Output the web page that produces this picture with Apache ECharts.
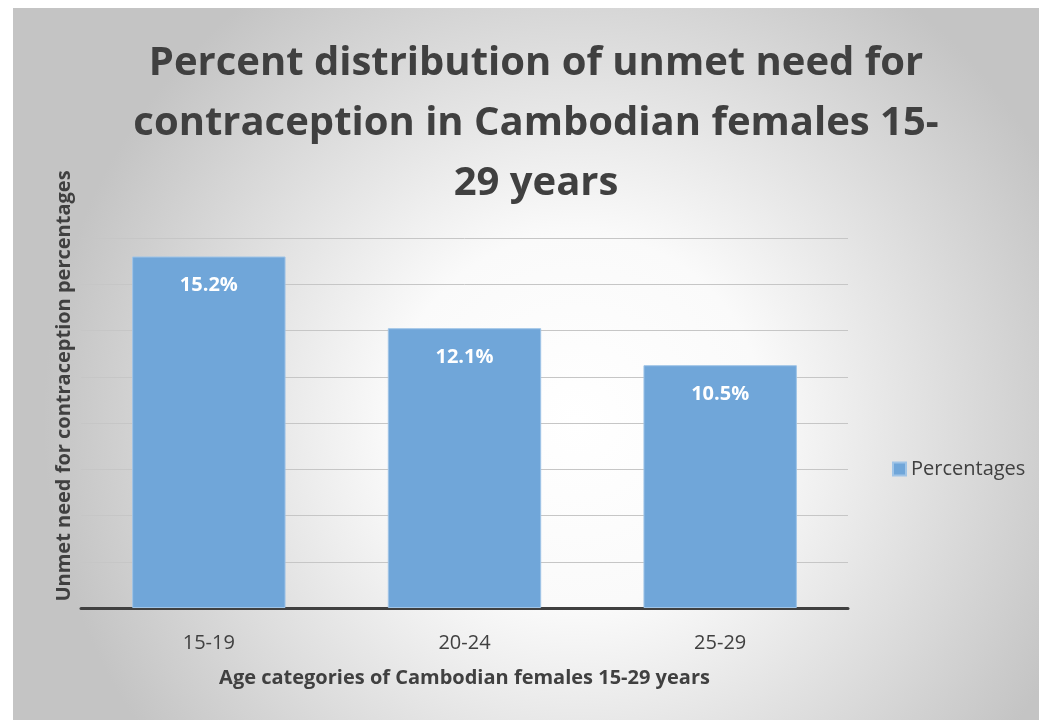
<!DOCTYPE html>
<html><head><meta charset="utf-8">
<script src="https://cdn.jsdelivr.net/npm/echarts@6/dist/echarts.min.js"></script>
<style>html,body{margin:0;padding:0;background:#fff;}#c{width:1039px;height:720px;}</style>
</head><body><div id="c"></div>
<script>
const categories = ['15-19', '20-24', '25-29'];
const percentages = [15.2, 12.1, 10.5];
const seriesName = 'Percentages';
const titleText = 'Percent distribution of unmet need for\ncontraception in Cambodian females 15-\n29 years';
const xName = 'Age categories of Cambodian females 15-29 years';
const yName = 'Unmet need for contraception percentages';

const chart = echarts.init(document.getElementById('c'));
chart.setOption({
  backgroundColor: '#ffffff',
  animation: false,
  graphic: [
    { type: 'rect', z: -10, silent: true,
      shape: { x: 13, y: 8, width: 1026, height: 712 },
      style: { fill: { type: 'radial', x: 0.55, y: 0.58, r: 0.75,
        colorStops: [{ offset: 0, color: '#ffffff' }, { offset: 0.35, color: '#fafafa' }, { offset: 1, color: '#c4c4c4' }] } } },
    { type: 'text', x: 64, y: 386, rotation: Math.PI / 2,
      style: { text: yName, fontFamily: 'Open Sans', fontWeight: 'bold', fontSize: 20, fill: '#404040',
        align: 'center', verticalAlign: 'middle' } }
  ],
  title: {
    text: titleText, left: 531, top: 29, textAlign: 'center',
    textStyle: { fontFamily: 'Open Sans', fontWeight: 'bold', fontSize: 40, color: '#404040', lineHeight: 60 }
  },
  legend: {
    data: [seriesName], orient: 'vertical', left: 887, top: 454,
    icon: 'rect', itemWidth: 13, itemHeight: 13, itemGap: 8,
    textStyle: { fontFamily: 'Open Sans', fontSize: 20, color: '#404040' }
  },
  grid: { left: 81, right: 191, top: 238, bottom: 112 },
  xAxis: {
    type: 'category', data: categories,
    axisLine: { lineStyle: { color: '#404040', width: 3 } },
    axisTick: { show: false },
    axisLabel: { fontFamily: 'Open Sans', fontSize: 20, color: '#404040', margin: 25 },
    name: xName, nameLocation: 'middle', nameGap: 60,
    nameTextStyle: { fontFamily: 'Open Sans', fontWeight: 'bold', fontSize: 20, color: '#404040' }
  },
  yAxis: {
    type: 'value', min: 0, max: 16, interval: 2,
    axisLine: { show: false }, axisTick: { show: false }, axisLabel: { show: false },
    splitLine: { lineStyle: { color: '#c6c6c6', width: 1 } }
  },
  series: [{
    name: seriesName, type: 'bar', data: percentages, barWidth: '60%',
    itemStyle: { color: '#70a6d9', borderColor: '#9fc4e7', borderWidth: 1 },
    label: { show: true, position: 'insideTop', distance: 19,
      formatter: p => p.value.toFixed(1) + '%',
      fontFamily: 'Open Sans', fontWeight: 'bold', fontSize: 20, color: '#ffffff' }
  }]
});
</script></body></html>
